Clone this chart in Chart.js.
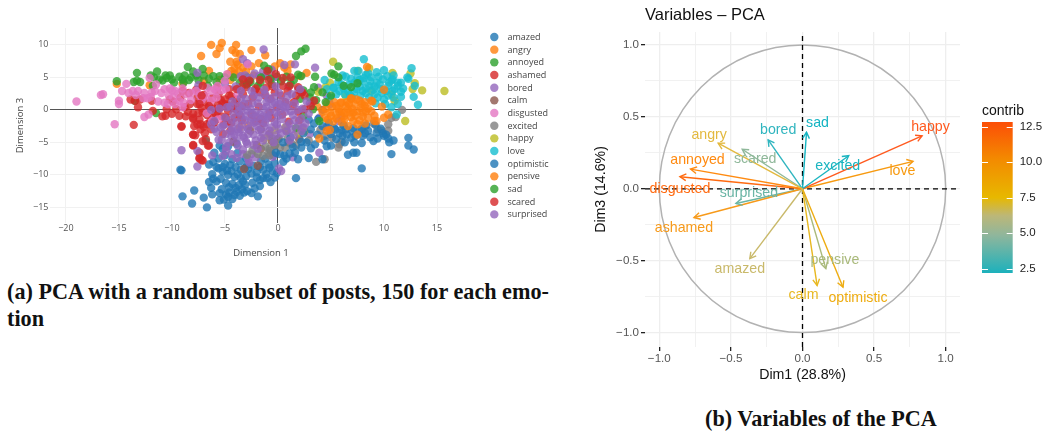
<!DOCTYPE html>
<html><head><meta charset="utf-8">
<style>
html,body{margin:0;padding:0;background:#fff;width:1045px;height:436px;overflow:hidden}
canvas{position:absolute}
.cap{position:absolute;font-family:"Liberation Serif",serif;font-weight:bold;font-size:22.2px;line-height:27px;white-space:nowrap;color:#111}
</style>
<script src="https://cdn.jsdelivr.net/npm/chart.js@4"></script>
</head><body>
<div style="position:absolute;left:0;top:1px;width:570px;height:268px"><canvas id="pca"></canvas></div>
<div style="position:absolute;left:590px;top:1px;width:375px;height:390px"><canvas id="vars"></canvas></div>
<div style="position:absolute;left:982px;top:101px;width:63px;height:186px"><canvas id="bar"></canvas></div>
<div class="cap" style="left:7px;top:278px">(a) PCA with a random subset of posts, 150 for each emo-</div>
<div class="cap" style="left:7px;top:305px">tion</div>
<div class="cap" style="left:705px;top:405px">(b) Variables of the PCA</div>
<script>
const emotions=["amazed","angry","annoyed","ashamed","bored","calm","disgusted","excited","happy","love","optimistic","pensive","sad","scared","surprised"];
const xTicksA=[-20,-15,-10,-5,0,5,10,15];
const yTicksA=[-15,-10,-5,0,5,10];
const amazed=[[-9.0,-13.3],[-7.9,-12.4],[-8.1,-14.4],[-7.0,-13.5],[-6.7,-15.0],[-6.2,-13.0],[-6.5,-8.4],[-5.8,-8.8],[-6.2,-9.9],[-6.5,-11.1],[-5.8,-11.0],[-6.3,-12.0],[-5.5,-13.9],[-5.1,-13.8],[-4.7,-14.7],[-4.9,-13.0],[-4.6,-12.7],[-4.1,-13.1],[-3.2,-12.7],[-2.9,-12.5],[-1.9,-13.3],[-5.0,-8.3],[-4.5,-8.5],[-4.0,-8.8],[-3.5,-9.2],[-5.2,-9.5],[-4.7,-10.0],[-4.1,-10.3],[-3.5,-10.5],[-3.0,-10.2],[-2.5,-9.8],[-5.4,-10.6],[-4.9,-11.2],[-4.3,-11.4],[-3.7,-11.6],[-3.1,-11.5],[-2.4,-11.2],[-5.3,-12.2],[-4.6,-11.9],[-4.0,-12.0],[-3.4,-12.2],[-2.2,-12.1],[-1.7,-10.8],[-1.0,-10.5],[-0.7,-11.1],[-1.4,-10.5],[-1.1,-9.9],[-0.5,-9.4],[-1.7,-11.7],[-9.2,-9.2],[-9.1,-9.3],[-2.9,-8.4],[-2.3,-8.6],[-1.7,-8.8],[-0.9,-8.4],[-0.3,-8.2],[-5.6,-7.5],[-5.0,-7.0],[-4.3,-7.6],[-3.6,-7.9],[-6.0,-6.6],[-5.2,-6.0],[-4.7,-5.6],[-3.9,-5.2],[-1.2,-7.5],[-0.4,-7.0],[0.5,-8.0],[0.6,-7.0],[0.2,-6.8],[-5.6,-9.0],[-6.1,-10.6],[-5.5,-12.8],[-4.3,-13.7],[-4.4,-9.4],[-3.8,-9.9],[-3.3,-11.0],[-2.8,-9.1],[-2.0,-9.6],[-2.0,-10.4],[-3.9,-12.6],[-5.2,-8.8],[-4.8,-9.3],[-3.1,-8.9],[-1.4,-9.2],[-0.8,-8.9],[-1.6,-7.9],[-3.0,-7.4],[-3.8,-6.6],[-5.5,-5.5],[-6.1,-8.0],[-0.1,-9.7],[-0.3,-10.4],[-2.5,-12.8],[-4.7,-13.4],[-3.6,-13.2]];
const angry=[[-6.3,10.0],[-5.3,10.3],[-5.5,9.5],[-5.8,8.6],[-7.25,8.3],[-3.95,10.0],[-2.5,9.2],[-4.3,9.2],[-4.0,8.8],[-3.6,8.6],[-1.2,8.4],[-4.5,7.4],[-3.8,7.0],[-4.1,6.4],[-4.1,5.5],[-6.5,6.0],[-4.7,5.5],[-0.3,6.7],[0.2,7.2],[2.7,5.7],[-3.3,6.5],[-3.0,5.9],[-4.5,4.6],[-2.5,6.7],[-15.2,4.0],[-12.1,3.8],[-9.0,4.0],[-5.5,4.6],[-7.0,4.4],[-3.6,-2.7],[-4.8,0.9],[-2.8,-2.4],[-2.2,-1.0],[1.2,7.0],[0.6,6.5],[2.1,5.2],[-1.8,7.2],[-3.7,5.9],[-4.4,6.0],[-3.4,4.9],[-0.7,6.0],[0.9,6.0],[-2.3,5.3],[-3.9,7.4]];
const annoyed=[[-15.2,4.4],[-13.3,5.7],[-13.6,4.3],[-13.0,4.3],[-13.3,4.5],[-11.4,5.9],[-11.7,5.0],[-10.6,5.3],[-10.2,5.3],[-10.9,4.5],[-9.8,4.2],[-9.3,5.1],[-8.8,5.3],[-8.5,6.6],[-7.1,6.3],[-8.2,5.0],[-9.0,4.7],[-7.7,5.3],[-11.5,-0.5],[-13.5,1.4],[-8.4,4.6],[-11.8,3.7],[-11.2,4.7],[-6.5,4.8],[-6.1,5.2],[-5.5,5.2],[-5.0,5.0],[-6.6,3.7],[-2.7,4.5],[-1.9,3.7],[-1.65,4.2],[-1.2,5.2],[-0.6,4.0],[-3.6,4.2],[-4.2,5.0],[-10.5,4.9],[-8.0,5.9],[-7.5,4.6],[-8.9,4.2],[-7.0,5.3],[-5.8,4.3],[-12.0,5.3],[-10.0,4.7],[-2.9,5.0],[-0.1,5.1],[0.3,4.4]];
const ashamed=[[-13.6,-2.3],[-13.2,0.4],[-13.9,1.6],[-13.5,1.4],[-13.0,1.6],[-11.8,-0.15],[-10.9,-1.0],[-11.9,1.4],[-10.5,0.1],[-10.0,-0.6],[-9.1,-2.6],[-9.3,-0.9],[-8.0,-3.8],[-7.8,-3.9],[-8.0,-5.5],[-7.4,-6.6],[-7.1,-7.8],[-7.4,-7.4],[-7.9,-2.5],[-7.3,-3.0],[-6.5,-5.5],[-6.8,-4.5],[-9.0,2.9],[-9.2,1.9],[-7.6,1.9],[-8.0,-0.6],[-7.4,-1.5],[-6.7,-0.8],[-6.1,-1.2],[-8.3,0.9],[-7.2,0.3],[-6.5,0.4],[-5.7,0.8],[-5.0,1.6],[-8.7,-1.0],[-8.0,-1.4],[-6.7,-2.2],[-6.9,-3.6],[-5.9,-0.6],[-5.3,-1.0],[-4.7,-0.2],[-4.1,-1.2],[-3.6,-0.8],[-3.4,0.6],[-3.9,1.6],[-4.4,2.1],[-8.4,2.6],[-7.7,3.1],[-7.0,2.3],[-6.2,1.8],[-5.6,2.4],[-9.9,1.3],[-10.6,-0.9],[-10.2,1.6],[-7.5,-0.5],[-6.3,-3.0],[-5.1,-2.2],[-4.5,-3.2],[-7.6,0.9],[-6.9,1.2],[-6.0,0.2],[-5.4,1.5],[-8.5,-0.3],[-7.1,-0.4],[-6.4,-1.8],[-7.6,-2.2],[-7.0,-2.6],[-4.8,0.7],[-4.3,0.3],[-5.7,3.4],[-4.6,3.2],[-3.4,3.6],[-8.8,0.4],[-9.6,0.1],[-5.2,-3.7],[-2.9,4.1],[-2.1,3.3],[-1.2,2.2]];
const bored=[[-9.1,-6.2],[-7.6,-8.7],[-7.6,-6.3],[-1.35,9.3],[-7.6,5.7],[-7.5,3.8],[-3.3,7.8],[-2.9,7.2],[-3.5,5.2],[-2.2,5.6],[-1.4,5.9],[-0.6,6.2],[0.6,6.9],[1.6,7.0],[3.5,6.5],[3.8,3.4],[4.6,2.2],[4.9,0.9],[6.0,-0.9],[5.7,-1.7],[4.6,-2.7],[3.9,-6.6],[1.4,-7.3],[0.3,-9.4],[0.1,-9.0],[-0.5,-7.2],[3.9,-1.2],[3.0,-3.7],[-6.2,-7.0],[-5.2,-7.1],[-4.4,-6.8],[-3.3,-6.8],[-2.8,-7.6],[-2.7,-8.1],[-2.5,-6.8],[-4.9,-6.3],[-5.4,-2.7],[-4.4,-4.0],[-3.3,-4.0],[-2.8,-3.0],[-6.0,-2.9],[-5.6,-4.6],[-4.8,-2.1],[-3.8,-3.0],[-5.0,4.0],[-4.0,3.6],[-3.1,5.3],[-2.6,4.9],[-1.8,5.2],[-1.1,5.3],[-0.4,5.0],[1.0,3.6],[1.9,3.1],[3.0,1.0],[-3.9,-7.4],[-2.1,-7.3]];
const calm=[[-6.8,-4.8],[-3.2,-9.1],[-1.6,-6.0],[-1.6,-3.0],[-0.8,-3.7],[-0.6,-4.8],[0.0,-4.5],[-0.3,-5.5],[1.0,-5.0],[2.0,-4.5],[-2.0,-5.4],[-2.6,-3.2],[4.2,0.0],[-4.2,-4.9],[0.8,-3.2],[-1.9,-8.6]];
const disgusted=[[-19.0,1.3],[-16.7,2.3],[-16.5,2.4],[-15.0,1.4],[-15.0,0.9],[-15.4,-2.2],[-12.6,-1.1],[-12.2,-0.7],[-14.3,4.0],[-14.7,2.9],[-13.7,2.9],[-14.1,2.6],[-13.2,2.9],[-12.1,4.9],[-11.5,3.9],[-10.7,3.2],[-10.2,3.3],[-12.7,1.8],[-12.3,1.8],[-11.9,2.7],[-10.7,1.1],[-9.9,1.9],[-9.3,1.4],[-9.0,0.4],[-8.7,2.4],[-7.7,2.9],[-6.8,2.1],[-5.8,2.9],[-5.8,1.9],[-4.8,5.5],[-6.2,-1.7],[-5.6,-1.4],[-2.85,7.0],[-6.0,3.2],[-5.7,3.7],[-9.7,0.9],[-10.3,2.2],[-8.2,1.5],[-7.2,1.5],[-4.9,3.2],[-3.8,2.4],[-9.4,2.5],[-12.0,2.0],[-11.0,2.6],[-11.3,1.3],[-10.4,0.9],[-9.7,2.9],[-8.9,1.1],[-8.2,2.6],[-7.4,2.3],[-6.3,2.9],[-5.3,3.0],[-6.3,1.4],[-11.6,2.9],[-12.6,2.6],[-13.4,2.3],[-10.0,3.0],[-9.0,3.3],[-6.7,3.4],[-5.0,4.5],[-5.5,0.3],[-6.7,-0.5]];
const excited=[[11.7,0.0],[11.1,-1.1],[10.4,-2.2],[10.4,-3.2],[9.4,-3.0],[9.8,-3.2],[5.8,-5.3],[5.7,-5.8],[3.6,-8.0],[4.4,-7.6],[0.2,-5.8],[0.7,-5.8],[-0.8,-6.0],[-0.8,-7.0],[1.7,-5.5],[-1.9,-6.8],[-2.9,-6.9],[-0.7,-6.3],[-0.9,-6.6],[0.1,-4.4],[6.0,-4.9],[2.3,-2.8],[4.0,-3.1],[10.7,-1.2],[-0.2,-5.2],[0.9,-4.4],[1.3,-5.2],[2.9,-4.7],[-1.2,-5.6],[-2.4,-6.2],[5.1,-4.3],[4.4,-4.0],[-0.5,-4.4],[-1.4,-7.1],[9.0,-2.1]];
const happy=[[15.7,2.9],[13.6,3.0],[12.9,4.1],[12.5,5.6],[12.7,3.2],[10.8,5.7],[11.0,1.4],[10.7,2.4],[8.6,6.4],[7.5,6.0],[5.2,7.4],[12.0,-1.7],[4.5,3.5],[4.9,4.2],[3.8,2.8],[2.5,-3.3],[-1.3,-4.4],[0.7,-2.7],[1.9,-3.5],[-0.3,-3.1],[8.8,2.9],[6.4,2.1]];
const love=[[8.1,7.8],[7.2,6.0],[7.6,6.0],[8.3,5.4],[9.3,5.8],[10.0,6.1],[10.9,5.3],[10.8,4.7],[12.6,6.4],[12.3,4.8],[12.9,3.7],[11.8,3.3],[11.3,4.2],[12.8,2.0],[13.2,0.8],[11.6,2.0],[10.9,1.9],[10.7,0.4],[11.3,0.9],[11.2,-0.7],[6.1,5.3],[6.4,5.1],[4.4,4.6],[5.3,3.4],[7.2,4.2],[8.6,3.7],[9.3,4.2],[9.7,3.2],[10.4,3.7],[10.8,2.9],[8.0,2.9],[7.2,2.7],[6.6,2.9],[5.8,2.9],[5.2,3.4],[9.1,2.4],[10.0,1.6],[8.8,5.0],[7.5,5.0],[6.7,3.9],[7.8,2.2],[8.6,1.9],[9.4,1.9],[9.9,4.7],[10.7,4.5],[11.6,4.2],[12.2,5.0],[8.0,4.4],[8.3,3.3],[9.0,3.1],[9.8,2.6],[11.0,3.2],[10.3,5.2],[8.1,4.9],[6.3,2.4],[5.7,4.3],[4.9,1.9],[7.0,1.9],[6.0,3.9],[6.9,4.8],[7.7,3.6],[8.7,4.4],[9.1,3.6],[9.6,3.9],[10.2,2.9],[10.5,4.2],[7.4,3.2],[6.8,2.3],[5.5,2.4],[8.3,2.6],[9.5,5.1],[8.5,5.6],[11.3,3.7],[11.6,2.8],[10.4,2.2],[10.1,0.9],[9.2,1.0],[7.7,4.6],[6.2,3.3],[4.6,3.2]];
const optimistic=[[10.7,-6.8],[12.3,-4.3],[12.3,-5.5],[12.8,-6.1],[7.9,-9.0],[6.6,-6.9],[7.1,-6.6],[7.4,-6.6],[7.9,-5.1],[9.0,-4.8],[9.4,-4.4],[10.0,-4.0],[10.5,-5.0],[10.9,-4.7],[10.4,-4.4],[9.9,-3.6],[8.5,-3.2],[7.7,-3.2],[7.0,-3.2],[6.4,-3.0],[6.9,-4.3],[7.2,-5.0],[6.1,-4.0],[1.7,-10.5],[1.9,-7.6],[2.9,-7.4],[4.2,-7.6],[3.1,-5.9],[5.0,-5.5],[5.5,-4.5],[6.0,-3.1],[4.6,-5.6],[3.5,-5.3],[2.7,-5.0],[1.4,-5.7],[5.3,-2.8],[6.3,-5.0],[8.3,-2.4],[9.2,-2.3],[4.2,-2.5],[3.4,-2.1],[2.4,-3.6],[1.2,-4.2],[0.5,-5.0],[1.1,-6.7],[7.3,-4.0],[8.0,-4.0],[8.7,-4.2],[9.3,-3.5],[6.5,-3.8],[5.8,-3.6],[5.0,-3.7],[4.4,-4.7],[3.7,-3.8],[3.1,-3.0],[6.2,-2.4],[7.1,-2.8],[7.9,-2.9],[9.7,-2.9],[10.2,-3.8],[8.2,-3.6],[2.2,-4.9],[1.6,-6.6],[0.8,-7.5],[-0.2,-6.6],[5.4,-3.0],[4.8,-2.0],[3.8,-1.4],[2.9,-1.5],[2.2,-5.8]];
const pensive=[[4.4,-1.2],[4.9,-0.4],[4.7,-1.5],[5.5,0.6],[6.0,1.1],[6.9,1.8],[6.4,0.6],[7.2,0.9],[7.7,1.4],[8.2,0.6],[8.3,-0.2],[7.5,-0.2],[6.8,-0.4],[6.0,-0.2],[5.5,-0.7],[8.8,1.4],[9.1,-0.9],[6.6,-2.5],[7.5,-2.2],[8.2,-2.1],[7.1,-1.7],[4.9,-3.1],[6.3,-1.4],[10.0,-1.2],[10.4,-0.7],[9.8,0.5],[10.0,3.1],[7.5,-3.8],[3.9,-4.4],[8.4,6.6],[8.8,-0.2],[9.3,-1.7],[5.1,0.4],[5.8,-0.3],[6.5,1.2],[7.0,0.2],[7.9,0.9],[8.5,0.2],[6.2,-1.0],[7.3,-0.9],[8.0,-1.0],[5.2,-1.8],[4.2,-0.3],[3.7,0.5],[4.6,1.0],[8.9,1.3],[6.9,1.7],[5.9,1.1],[9.1,-1.7],[6.6,0.1],[7.8,0.3],[4.6,-3.2],[5.5,-1.3],[6.9,-1.1],[7.7,-1.6],[8.5,-1.2],[6.0,-1.9],[5.0,-0.9],[6.7,0.9],[7.4,1.6],[8.2,1.2],[5.3,1.2],[8.0,-0.4],[7.1,-0.4],[6.3,-0.5],[5.7,0.2],[4.5,0.2]];
const sad=[[5.7,6.7],[5.3,5.4],[5.7,5.0],[6.2,3.7],[6.9,3.5],[7.5,4.1],[3.5,5.1],[3.1,2.7],[4.2,2.7],[5.0,2.2],[3.3,0.1],[3.9,-1.7],[2.6,9.4],[2.2,9.0],[1.7,8.3],[5.05,5.6],[-1.3,6.8],[-0.9,6.3],[0.8,5.1],[1.9,5.4],[2.2,5.2],[1.5,4.6],[2.4,3.0],[-0.7,4.8],[-1.6,5.0],[-2.6,4.3],[-2.9,3.9],[1.2,4.0],[3.0,1.9],[3.6,1.5],[4.5,1.2],[3.4,3.5],[2.1,1.7],[1.7,-2.8],[2.4,-0.9]];
const scared=[[0.45,4.9],[1.2,5.0],[-0.2,5.5],[-3.3,4.7],[-2.7,4.5],[-1.0,6.0],[-1.7,4.6],[-1.1,3.4],[0.45,3.7],[1.1,3.7],[1.7,2.2],[2.3,2.7],[-0.3,2.7],[-1.7,2.7],[-2.4,1.9],[-2.8,0.9],[-3.3,2.4],[-3.9,3.2],[-4.6,2.2],[-5.4,0.4],[-6.5,0.6],[-7.2,2.2],[-7.1,3.7],[-7.4,0.9],[3.4,1.4],[3.1,0.6],[2.2,2.7],[2.5,2.2],[2.5,0.1],[-1.4,-2.0],[-1.6,-1.4],[-9.1,-2.5],[-8.0,-3.8],[-8.0,-5.4],[-7.2,-7.7],[-7.4,-7.5],[-6.6,-5.5],[-7.1,-4.8],[-7.3,-2.2],[-8.0,-1.2],[1.4,0.6],[0.7,1.2],[-0.1,0.4],[-0.8,-0.4],[-3.9,0.0],[-2.5,-0.7],[-1.8,0.5],[0.3,2.2],[1.5,1.2],[-0.7,1.7],[2.0,-1.6],[1.0,-1.8],[-0.5,3.6],[-2.2,3.0],[-0.9,4.6],[0.9,2.9],[1.9,3.5],[-3.0,3.5],[-4.1,1.0],[-5.2,1.0],[-6.0,-1.9],[-5.7,-0.2],[-4.9,-1.2],[-4.4,-2.0],[-3.4,-1.6],[-2.1,-1.8],[-0.6,-1.2],[0.4,-0.7],[1.9,-0.3]];
const surprised=[[-4.3,1.3],[-3.7,0.6],[-3.0,1.7],[-2.4,1.0],[-1.8,1.9],[-1.1,1.2],[-0.4,2.0],[0.3,1.4],[0.9,2.1],[1.6,1.0],[2.3,0.2],[2.9,-0.6],[2.2,-1.3],[1.4,-0.8],[0.7,-0.3],[0.0,-0.9],[-0.7,-0.1],[-1.4,0.2],[-2.1,-0.3],[-2.9,-0.1],[-3.5,-0.9],[-4.2,-0.6],[-3.9,-1.9],[-3.1,-1.6],[-2.4,-1.2],[-1.7,-1.7],[-1.0,-1.3],[-0.3,-1.9],[0.4,-1.4],[1.1,-2.1],[1.9,-2.4],[2.6,-2.1],[-0.6,-2.7],[-1.3,-2.6],[-2.0,-2.5],[-2.8,-2.9],[-3.5,-3.0],[-4.3,-2.8],[-4.9,-3.7],[-4.1,-3.9],[-3.2,-4.3],[-2.3,-3.8],[-1.5,-3.5],[-0.8,-3.2],[0.1,-2.9],[0.8,-3.3],[1.5,-3.9],[2.2,-3.3],[-5.0,-1.2],[-4.6,-5.0],[-3.8,-5.5],[-2.9,-5.2],[-2.1,-4.7],[-1.4,-4.7],[-0.2,-3.9],[-2.5,2.9],[-1.3,3.1],[-3.5,2.9],[0.5,0.5],[-0.5,0.9],[-1.7,-0.7],[-3.4,0.2],[-2.6,-1.9],[0.9,0.9],[1.9,0.0],[2.7,1.3],[-5.2,-2.5],[-5.5,0.2],[-4.8,0.4],[-5.8,-3.4],[-1.9,-6.0],[-3.3,-6.1],[-0.4,-5.0],[1.1,-4.7],[-6.0,-1.7],[-6.3,0.0],[2.1,3.2],[-0.2,3.6],[-3.2,0.9],[-2.6,0.2],[-1.9,1.0],[-1.1,0.5],[-0.3,1.1],[0.2,0.1],[1.2,-0.2],[-0.2,-0.4],[-1.0,-0.7],[-2.4,-0.6],[-3.0,-0.9],[-3.7,-0.2],[-4.5,0.5],[-3.5,1.8],[-2.3,2.2],[-1.2,2.4],[0.1,2.6],[1.3,2.4],[-4.4,-1.6],[-3.4,-2.3],[-2.3,-2.0],[-1.2,-2.0],[-0.1,-2.2],[0.8,-2.5],[1.6,-1.6],[2.4,-2.7],[-1.8,-3.1],[-2.8,-3.7],[-3.7,-3.5],[-4.4,-3.2],[-0.9,-4.0],[0.3,-3.6],[1.3,-3.0],[-3.0,-4.9],[-2.3,-5.4],[-3.9,-4.7],[-1.6,-4.3],[-5.3,-4.6],[-4.9,-5.7],[-6.3,-2.2],[-0.9,-1.0],[-1.4,-1.0],[-2.0,-1.1],[0.7,0.4],[0.1,0.9],[-0.9,1.7]];
const seriesValues=[amazed,angry,annoyed,ashamed,bored,calm,disgusted,excited,happy,love,optimistic,pensive,sad,scared,surprised];
const pointColors=["31,119,180","255,127,14","44,160,44","214,39,40","148,103,189","140,86,75","227,119,194","127,127,127","188,189,34","23,190,207","31,119,180","255,127,14","44,160,44","214,39,40","148,103,189"];

const variables=["amazed","angry","annoyed","ashamed","bored","calm","disgusted","excited","happy","love","optimistic","pensive","sad","scared","surprised"];
const dim1=[-0.368,-0.589,-0.782,-0.758,-0.24,0.102,-0.856,0.323,0.835,0.772,0.283,0.163,0.028,-0.421,-0.465];
const dim3=[-0.486,0.317,0.137,-0.2,0.34,-0.672,0.084,0.23,0.368,0.191,-0.684,-0.555,0.393,0.275,-0.102];
const arrowColors=["#c9b96a","#e3b93f","#ff8a10","#f79a1a","#30b5bf","#e8b820","#ff6a10","#1bb5c0","#ff5a1f","#f79a10","#eeac10","#a9b97a","#14b4c2","#8fb89a","#6bb5a5"];
const labelShift=[[-10,10],[-9,-8],[7,-9],[-10,11],[10,-10],[-13.6,10],[0,12],[-11,10],[8.4,-8.3],[-10.6,10],[15,10.6],[9,-9],[11,-9],[13,10],[13,-10]];
const axisTicksB=[-1,-0.75,-0.5,-0.25,0,0.25,0.5,0.75,1];
const contribTicks=[2.5,5,7.5,10,12.5];
const contribRange=[2.19,12.82];

const minus=v=>String(v).replace('-','\u2212');
Chart.defaults.animation=false;
Chart.defaults.plugins.legend.display=false;
Chart.defaults.plugins.tooltip.enabled=false;
Chart.defaults.responsive=true;
Chart.defaults.maintainAspectRatio=false;

const legendPlugin={id:'sideLegend',afterDraw(c){
  const x=c.ctx;x.save();x.font='9px "Open Sans"';x.textBaseline='middle';
  c.data.datasets.forEach((d,i)=>{
    const y=36+i*12.67;
    x.fillStyle=d.backgroundColor;x.beginPath();x.arc(494.3,y,4.2,0,Math.PI*2);x.fill();
    x.fillStyle='#444';x.fillText(d.label,507.5,y+0.3);
  });x.restore();}};

new Chart(document.getElementById('pca'),{type:'scatter',
 data:{datasets:emotions.map((e,i)=>({label:e,order:emotions.length-i,
   data:seriesValues[i].map(p=>({x:p[0],y:p[1]})),
   backgroundColor:`rgba(${pointColors[i]},0.8)`,borderWidth:0,pointRadius:4.2}))},
 options:{layout:{padding:{left:0,top:27,right:98,bottom:0}},
  scales:{
   x:{type:'linear',min:-21.5,max:18.3,
     afterBuildTicks:s=>{s.ticks=xTicksA.map(v=>({value:v}))},
     afterFit:s=>{s.height=46},
     grid:{drawTicks:false,drawBorder:false,lineWidth:1,color:c=>c.tick&&c.tick.value===0?'#555':'#f1f1f1'},border:{display:false},
     ticks:{autoSkip:false,maxRotation:0,padding:0,color:'#555',font:{family:'"Open Sans"',size:9},callback:v=>minus(v)},
     title:{display:true,text:'Dimension 1',color:'#444',font:{family:'"Open Sans"',size:9.5},padding:{top:0,bottom:10}}},
   y:{type:'linear',min:-17.4,max:12.6,
     afterBuildTicks:s=>{s.ticks=yTicksA.map(v=>({value:v}))},
     afterFit:s=>{s.width=50},
     grid:{drawTicks:false,lineWidth:1,color:c=>c.tick&&c.tick.value===0?'#555':'#f1f1f1'},border:{display:false},
     ticks:{autoSkip:false,padding:1.5,color:'#555',font:{family:'"Open Sans"',size:9},callback:v=>minus(v)},
     title:{display:true,text:'Dimension 3',color:'#444',font:{family:'"Open Sans"',size:9.5},padding:{top:15,bottom:0}}}
  }},plugins:[legendPlugin]});

const isMajor=v=>Math.abs(v*2-Math.round(v*2))<1e-6;
const circlePlugin={id:'unitCircle',beforeDatasetsDraw(c){
  const {x:sx,y:sy}=c.scales,x=c.ctx;x.save();x.strokeStyle='#b2b2b2';x.lineWidth=1.5;x.beginPath();
  x.ellipse(sx.getPixelForValue(0),sy.getPixelForValue(0),sx.getPixelForValue(1)-sx.getPixelForValue(0),sy.getPixelForValue(0)-sy.getPixelForValue(1),0,0,Math.PI*2);
  x.stroke();x.restore();},
 afterDatasetsDraw(c){
  const {x:sx,y:sy}=c.scales,x=c.ctx;x.save();x.textAlign='center';x.textBaseline='middle';x.font='14.2px "Liberation Sans"';x.lineWidth=1.4;
  const ox=sx.getPixelForValue(0),oy=sy.getPixelForValue(0);
  variables.forEach((v,i)=>{
    const tx=sx.getPixelForValue(dim1[i]),ty=sy.getPixelForValue(dim3[i]),a=Math.atan2(ty-oy,tx-ox),L=7;
    x.strokeStyle=arrowColors[i];x.beginPath();
    x.moveTo(tx-L*Math.cos(a-0.5),ty-L*Math.sin(a-0.5));x.lineTo(tx,ty);x.lineTo(tx-L*Math.cos(a+0.5),ty-L*Math.sin(a+0.5));x.stroke();
    x.fillStyle=arrowColors[i];x.fillText(v,tx+labelShift[i][0],ty+labelShift[i][1]);
  });x.restore();}};

const refLine=(pts)=>({data:pts,borderColor:'#000',borderWidth:1.3,borderDash:[5,4],pointRadius:0,showLine:true,order:50});
new Chart(document.getElementById('vars'),{type:'scatter',
 data:{datasets:[
   ...variables.map((v,i)=>({label:v,order:i+1,data:[{x:0,y:0},{x:dim1[i],y:dim3[i]}],borderColor:arrowColors[i],borderWidth:1.4,pointRadius:0,showLine:true})),
   refLine([{x:-1.1,y:0},{x:1.1,y:0}]),refLine([{x:0,y:-1.1},{x:0,y:1.09}])]},
 options:{layout:{padding:{left:0,top:0,right:5,bottom:0}},
  plugins:{title:{display:true,text:'Variables \u2013 PCA',align:'start',fullSize:false,color:'#111',font:{family:'"Liberation Sans"',size:16.5,weight:'normal'},padding:{top:5,bottom:6.2}}},
  scales:{
   x:{type:'linear',min:-1.1,max:1.1,
     afterBuildTicks:s=>{s.ticks=axisTicksB.map(v=>({value:v}))},afterFit:s=>{s.height=44},
     border:{display:false},
     grid:{tickLength:4,tickWidth:1.3,tickColor:c=>isMajor(c.tick.value)?'#222':'rgba(0,0,0,0)',color:'#eeeeee',lineWidth:c=>c.tick&&isMajor(c.tick.value)?1.3:0.8},
     ticks:{autoSkip:false,maxRotation:0,padding:0.5,color:'#555',font:{family:'"Liberation Sans"',size:11.6},callback:v=>isMajor(v)?minus(v.toFixed(1)):''},
     title:{display:true,text:'Dim1 (28.8%)',color:'#111',font:{family:'"Liberation Sans"',size:14.2},padding:{top:0,bottom:7.6}}},
   y:{type:'linear',min:-1.1,max:1.09,
     afterBuildTicks:s=>{s.ticks=axisTicksB.map(v=>({value:v}))},afterFit:s=>{s.width=55},
     border:{display:false},
     grid:{tickLength:4,tickWidth:1.3,tickColor:c=>isMajor(c.tick.value)?'#222':'rgba(0,0,0,0)',color:'#eeeeee',lineWidth:c=>c.tick&&isMajor(c.tick.value)?1.3:0.8},
     ticks:{autoSkip:false,padding:2,color:'#555',font:{family:'"Liberation Sans"',size:11.6},callback:v=>isMajor(v)?minus(v.toFixed(1)):''},
     title:{display:true,text:'Dim3 (14.6%)',color:'#111',font:{family:'"Liberation Sans"',size:14.2},padding:{top:2.5,bottom:0}}}
  }},plugins:[circlePlugin]});

const barTicksPlugin={id:'barTicks',afterDatasetsDraw(c){
  const a=c.chartArea,s=c.scales.y,x=c.ctx;x.save();x.strokeStyle='#fff';x.lineWidth=1;x.beginPath();
  contribTicks.forEach(v=>{const y=Math.round(s.getPixelForValue(v))+0.5;x.moveTo(a.left,y);x.lineTo(a.left+6,y);x.moveTo(a.right-6,y);x.lineTo(a.right,y);});
  x.stroke();x.restore();}};
new Chart(document.getElementById('bar'),{type:'bar',
 data:{labels:['contrib'],datasets:[{data:[contribRange],barPercentage:1,categoryPercentage:1,borderWidth:0,
   backgroundColor:ctx=>{const c=ctx.chart,a=c.chartArea;if(!a)return '#e7b800';
     const g=c.ctx.createLinearGradient(0,a.bottom,0,a.top);
     g.addColorStop(0,'#1cb1bc');g.addColorStop(0.25,'#8fb69c');g.addColorStop(0.38,'#bcb778');g.addColorStop(0.5,'#e7b800');g.addColorStop(0.75,'#f38b00');g.addColorStop(1,'#fc4e07');return g;}}]},
 options:{layout:{padding:{left:0,top:0,right:0,bottom:7.3}},
  plugins:{title:{display:true,text:'contrib',align:'start',color:'#111',font:{family:'"Liberation Sans"',size:14,weight:'normal'},padding:{top:2,bottom:2.2}}},
  scales:{x:{display:false},
   y:{position:'right',min:contribRange[0],max:contribRange[1],
     afterBuildTicks:s=>{s.ticks=contribTicks.map(v=>({value:v}))},afterFit:s=>{s.width=32.3},
     border:{display:false},grid:{display:false,drawTicks:false},
     ticks:{padding:7,color:'#222',font:{family:'"Liberation Sans"',size:11.5},callback:v=>v.toFixed(1)}}}},
 plugins:[barTicksPlugin]});
</script>
</body></html>
